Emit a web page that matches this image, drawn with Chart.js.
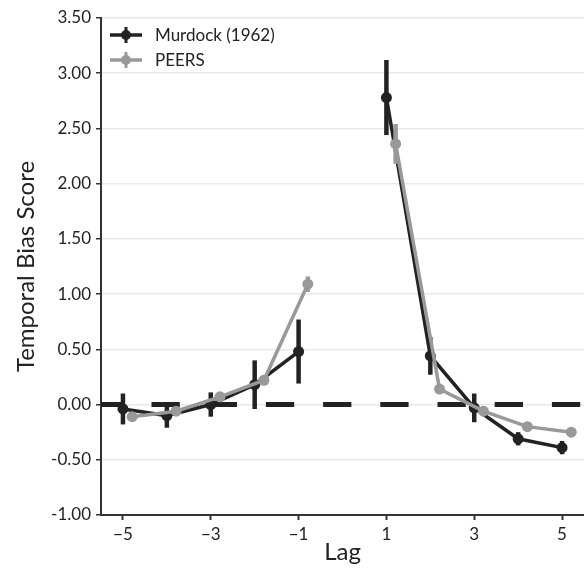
<!DOCTYPE html>
<html>
<head>
<meta charset="utf-8">
<script src="https://cdn.jsdelivr.net/npm/chart.js@4"></script>
<style>
  html, body { margin: 0; padding: 0; background: #fff; }
  #wrap { width: 584px; height: 568px; }
</style>
</head>
<body>
<div id="wrap"><canvas id="lagChart" width="584" height="568"></canvas></div>
<script>
// ---- data ----
const lags = [-5, -4, -3, -2, -1, 1, 2, 3, 4, 5];
const murdockScore = [-0.04, -0.10, 0.00, 0.18, 0.48, 2.78, 0.44, -0.03, -0.31, -0.39];
const murdockErr   = [0.14, 0.11, 0.11, 0.22, 0.29, 0.34, 0.17, 0.13, 0.06, 0.06];
const peersScore   = [-0.11, -0.06, 0.07, 0.22, 1.09, 2.36, 0.14, -0.06, -0.20, -0.25];
const peersErr     = [0.02, 0.02, 0.02, 0.02, 0.07, 0.18, 0.02, 0.02, 0.02, 0.02];
const seriesNames  = ["Murdock (1962)", "PEERS"];
const xTickValues  = [-5, -3, -1, 1, 3, 5];
const xTickLabels  = ["\u22125", "\u22123", "\u22121", "1", "3", "5"];

const FONT = "Lato, 'Noto Sans', sans-serif";
const DARK = "#222222";
const GREY = "#999999";
const DODGE = 0.21;   // PEERS points sit a little right of Murdock

function toPoints(values, shift) {
  return lags.map((lag, i) => ({ x: lag + shift, y: values[i] }));
}

// no line across the missing lag 0
function gapSegment(color) {
  return {
    borderColor: ctx => (ctx.p0.parsed.x < 0 && ctx.p1.parsed.x > 0) ? "rgba(0,0,0,0)" : color
  };
}

// vertical error bars, drawn just under each dataset's line
const errorBars = {
  id: "errorBars",
  beforeDatasetDraw(chart, args) {
    const ds = chart.data.datasets[args.index];
    const ctx = chart.ctx;
    const xs = chart.scales.x, ys = chart.scales.y;
    ctx.save();
    ctx.strokeStyle = ds.borderColor;
    ctx.lineWidth = 4.5;
    ds.data.forEach((p, i) => {
      const e = ds.errors[i];
      const px = xs.getPixelForValue(p.x);
      ctx.beginPath();
      ctx.moveTo(px, ys.getPixelForValue(p.y + e));
      ctx.lineTo(px, ys.getPixelForValue(p.y - e));
      ctx.stroke();
    });
    ctx.restore();
  }
};

// dashed reference line at 0
const zeroLine = {
  id: "zeroLine",
  beforeDatasetsDraw(chart) {
    const { ctx, chartArea } = chart;
    const y = chart.scales.y.getPixelForValue(0);
    ctx.save();
    ctx.strokeStyle = DARK;
    ctx.lineWidth = 5;
    ctx.setLineDash([28.3, 28.9]);
    ctx.lineDashOffset = 6.7;
    ctx.beginPath();
    ctx.moveTo(chartArea.left, y);
    ctx.lineTo(chartArea.right, y);
    ctx.stroke();
    ctx.restore();
  }
};

// legend in the top-left corner: line + dot + small error tick
const cornerLegend = {
  id: "cornerLegend",
  afterDraw(chart) {
    const ctx = chart.ctx;
    const colors = [DARK, GREY];
    ctx.save();
    seriesNames.forEach((name, i) => {
      const y = 35 + i * 25;
      ctx.strokeStyle = colors[i];
      ctx.fillStyle = colors[i];
      ctx.lineWidth = 3.5;
      ctx.beginPath();
      ctx.moveTo(110, y);
      ctx.lineTo(142, y);
      ctx.stroke();
      ctx.lineWidth = 3;
      ctx.beginPath();
      ctx.moveTo(126, y - 8);
      ctx.lineTo(126, y + 8);
      ctx.stroke();
      ctx.beginPath();
      ctx.arc(126, y, 5, 0, Math.PI * 2);
      ctx.fill();
      ctx.fillStyle = DARK;
      ctx.font = "17px " + FONT;
      ctx.textBaseline = "middle";
      ctx.fillText(name, 155, y + 1);
    });
    ctx.restore();
  }
};

new Chart(document.getElementById("lagChart"), {
  type: "line",
  data: {
    datasets: [
      {
        label: seriesNames[0],
        data: toPoints(murdockScore, 0),
        errors: murdockErr,
        borderColor: DARK,
        backgroundColor: DARK,
        borderWidth: 3.5,
        pointRadius: 5.5,
        pointBorderWidth: 0,
        segment: gapSegment(DARK),
        order: 2
      },
      {
        label: seriesNames[1],
        data: toPoints(peersScore, DODGE),
        errors: peersErr,
        borderColor: GREY,
        backgroundColor: GREY,
        borderWidth: 3.5,
        pointRadius: 5.5,
        pointBorderWidth: 0,
        segment: gapSegment(GREY),
        order: 1
      }
    ]
  },
  options: {
    responsive: false,
    animation: false,
    layout: { autoPadding: false, padding: { top: 18, right: 0, left: 0, bottom: 0 } },
    plugins: {
      legend: { display: false },
      tooltip: { enabled: false }
    },
    scales: {
      x: {
        type: "linear",
        min: -5.5,
        max: 5.5,
        afterBuildTicks: scale => {
          scale.ticks = xTickValues.map(v => ({ value: v }));
        },
        afterFit: scale => { scale.height = 53; },
        ticks: {
          autoSkip: false,
          maxRotation: 0,
          padding: 4,
          color: DARK,
          font: { family: FONT, size: 17 },
          callback: v => xTickLabels[xTickValues.indexOf(v)]
        },
        grid: {
          drawOnChartArea: false,
          drawTicks: true,
          tickLength: 5,
          tickWidth: 2,
          tickColor: "#333333"
        },
        border: { color: "#333333", width: 2 },
        title: {
          display: true,
          text: "Lag",
          color: DARK,
          font: { family: FONT, size: 24 },
          padding: { top: 1, bottom: 1 }
        }
      },
      y: {
        min: -1,
        max: 3.5,
        afterFit: scale => { scale.width = 101; },
        ticks: {
          stepSize: 0.5,
          padding: 5,
          color: DARK,
          font: { family: FONT, size: 17 },
          callback: v => v.toFixed(2)
        },
        grid: {
          color: "#e9e9e9",
          lineWidth: 1.5,
          tickLength: 5,
          tickColor: "#333333",
          tickWidth: 1.5
        },
        border: { color: "#333333", width: 2 },
        title: {
          display: true,
          text: "Temporal Bias Score",
          color: DARK,
          font: { family: FONT, size: 24 },
          padding: { top: 12, bottom: 12 }
        }
      }
    }
  },
  plugins: [zeroLine, errorBars, cornerLegend]
});
</script>
</body>
</html>
